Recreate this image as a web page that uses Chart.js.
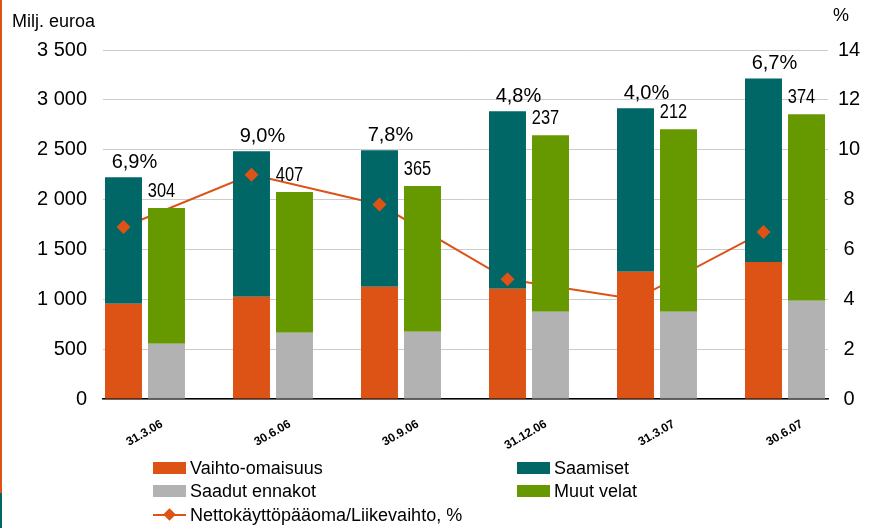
<!DOCTYPE html>
<html>
<head>
<meta charset="utf-8">
<script src="https://cdn.jsdelivr.net/npm/chart.js@4/dist/chart.umd.min.js"></script>
<style>
  body { margin: 0; background: #fff; }
  #wrap { position: relative; width: 869px; height: 528px; overflow: hidden; font-family: 'Liberation Sans', Arial, sans-serif; }
  #chart { position: absolute; left: 0; top: 0; }
  .edge { position: absolute; left: 0; width: 2px; }
  .title { position: absolute; font-size: 18px; color: #000; line-height: 1; }
  .item { position: absolute; height: 20px; font-size: 18px; line-height: 20px; color: #000; white-space: nowrap; }
  .sw { position: absolute; left: 0; top: 4px; width: 33px; height: 12px; }
  .item span.txt { position: absolute; left: 37px; top: 0; }
  .ln { position: absolute; left: 0; top: 9px; width: 33px; height: 2px; }
  .dm { position: absolute; left: 12px; top: 5px; width: 9px; height: 9px; transform: rotate(45deg); }
</style>
</head>
<body>
<div id="wrap">
  <canvas id="chart" width="869" height="528"></canvas>
  <div class="edge" style="top:0;height:493px;background:#DD5215"></div>
  <div class="edge" style="top:493px;height:35px;background:#006666"></div>
  <div class="title" style="left:12px;top:12px">Milj. euroa</div>
  <div class="title" style="left:833px;top:6px">%</div>
  <div id="legend"></div>
</div>
<script>
const dates = ['31.3.06', '30.6.06', '30.9.06', '31.12.06', '31.3.07', '30.6.07'];
const vaihtoOmaisuus = [955, 1025, 1125, 1105, 1275, 1375];
const saamiset = [1270, 1460, 1370, 1780, 1640, 1840];
const saadutEnnakot = [555, 665, 675, 875, 875, 985];
const muutVelat = [1360, 1410, 1460, 1770, 1830, 1870];
const nettoPct = [6.9, 9.0, 7.8, 4.8, 4.0, 6.7];
const nettoMilj = [304, 407, 365, 237, 212, 374];

const ORANGE = '#DD5215';
const TEAL = '#006666';
const GRAY = '#B2B2B2';
const GREEN = '#669900';

const catPct = 0.672;
const barPct = 0.86;
// line points sit on the centre of the first bar of each pair
const lineShift = catPct / 4;

const pts = arr => arr.map((v, i) => ({x: i, y: v}));

const labelPlugin = {
  id: 'stackLabels',
  afterDatasetsDraw(chart) {
    const ctx = chart.ctx;
    const topA = chart.getDatasetMeta(1).data;
    const topB = chart.getDatasetMeta(3).data;
    ctx.save();
    ctx.fillStyle = '#000';
    ctx.textAlign = 'center';
    ctx.textBaseline = 'alphabetic';
    topA.forEach((bar, i) => {
      ctx.font = '20px "Liberation Sans", Arial, sans-serif';
      ctx.fillText(nettoPct[i].toFixed(1).replace('.', ',') + '%', bar.x + 11, bar.y - 9);
    });
    topB.forEach((bar, i) => {
      ctx.save();
      ctx.translate(bar.x - 5, bar.y - 11);
      ctx.scale(0.82, 1);
      ctx.font = '20px "Liberation Sans", Arial, sans-serif';
      ctx.fillText(String(nettoMilj[i]), 0, 0);
      ctx.restore();
    });
    ctx.restore();
  }
};

new Chart(document.getElementById('chart'), {
  type: 'bar',
  data: {
    datasets: [
      {label: 'Vaihto-omaisuus', data: pts(vaihtoOmaisuus), backgroundColor: ORANGE, stack: 'a', order: 2},
      {label: 'Saamiset', data: pts(saamiset), backgroundColor: TEAL, stack: 'a', order: 2},
      {label: 'Saadut ennakot', data: pts(saadutEnnakot), backgroundColor: GRAY, stack: 'b', order: 2},
      {label: 'Muut velat', data: pts(muutVelat), backgroundColor: GREEN, stack: 'b', order: 2},
      {
        type: 'line', label: 'Nettokäyttöpääoma/Liikevaihto, %',
        data: nettoPct.map((v, i) => ({x: i - lineShift, y: v})),
        yAxisID: 'y1', borderColor: ORANGE, borderWidth: 2, pointRadius: 0, order: 3
      },
      {
        type: 'line', label: 'markers',
        data: nettoPct.map((v, i) => ({x: i - lineShift, y: v})),
        yAxisID: 'y1', showLine: false, pointStyle: 'rectRot', pointRadius: 7,
        pointBackgroundColor: ORANGE, pointBorderWidth: 0, order: 1
      }
    ]
  },
  options: {
    responsive: false,
    animation: false,
    devicePixelRatio: 1,
    categoryPercentage: catPct,
    barPercentage: barPct,
    layout: {padding: {top: 50, left: 0, right: 0, bottom: 0}},
    plugins: {legend: {display: false}, tooltip: {enabled: false}},
    scales: {
      x: {
        type: 'linear',
        offset: false,
        min: -0.328,
        max: 5.336,
        grid: {display: false, drawTicks: false, offset: false},
        border: {display: true, color: '#000', width: 1.5},
        ticks: {
          stepSize: 1,
          includeBounds: false,
          autoSkip: false,
          minRotation: 30,
          maxRotation: 30,
          labelOffset: 17,
          padding: 18,
          color: '#000',
          font: {family: 'Liberation Sans', size: 12, weight: 'bold'},
          callback: v => dates[v] ?? ''
        },
        afterFit: s => { s.height = 129; }
      },
      y: {
        position: 'left',
        stacked: true,
        min: 0,
        max: 3500,
        grid: {color: '#CCCCCC', lineWidth: 1, drawTicks: false},
        border: {display: false},
        ticks: {
          stepSize: 500,
          padding: 16,
          color: '#000',
          font: {family: 'Liberation Sans', size: 20},
          callback: v => String(v).replace(/\B(?=(\d{3})+(?!\d))/g, ' ')
        },
        afterFit: s => { s.width = 103; }
      },
      y1: {
        position: 'right',
        min: 0,
        max: 14,
        grid: {display: false, drawTicks: false},
        border: {display: false},
        ticks: {
          stepSize: 2,
          padding: 10,
          crossAlign: 'center',
          color: '#000',
          font: {family: 'Liberation Sans', size: 20}
        },
        afterFit: s => { s.width = 41; }
      }
    }
  },
  plugins: [labelPlugin]
});

// legend, two columns like the original
const legendItems = [
  {text: 'Vaihto-omaisuus', color: ORANGE, left: 153, top: 458},
  {text: 'Saamiset', color: TEAL, left: 517, top: 458},
  {text: 'Saadut ennakot', color: GRAY, left: 153, top: 481},
  {text: 'Muut velat', color: GREEN, left: 517, top: 481},
  {text: 'Nettokäyttöpääoma/Liikevaihto, %', color: ORANGE, left: 153, top: 505, line: true}
];
const legend = document.getElementById('legend');
legendItems.forEach(it => {
  const d = document.createElement('div');
  d.className = 'item';
  d.style.left = it.left + 'px';
  d.style.top = it.top + 'px';
  d.innerHTML = it.line
    ? `<div class="ln" style="background:${it.color}"></div><div class="dm" style="background:${it.color}"></div><span class="txt">${it.text}</span>`
    : `<div class="sw" style="background:${it.color}"></div><span class="txt">${it.text}</span>`;
  legend.appendChild(d);
});
</script>
</body>
</html>
